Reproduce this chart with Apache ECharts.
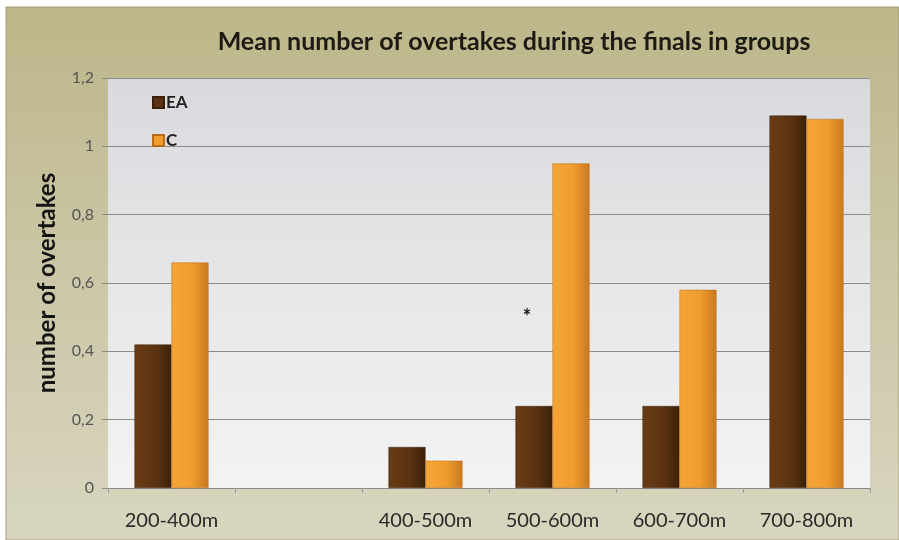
<!DOCTYPE html>
<html>
<head>
<meta charset="utf-8">
<script src="https://cdn.jsdelivr.net/npm/echarts@6/dist/echarts.min.js"></script>
<style>
  html, body { margin: 0; padding: 0; background: #ffffff; }
  #chart { width: 899px; height: 540px; }
</style>
</head>
<body>
<div id="chart"></div>
<script>
// Distance groups (the second slot is an intentionally empty group)
const categories = ['200-400m', '', '400-500m', '500-600m', '600-700m', '700-800m'];
// Mean overtakes per group
const eaValues = [0.42, null, 0.12, 0.24, 0.24, 1.09];
const cValues  = [0.66, null, 0.08, 0.95, 0.58, 1.08];
// Significance marker placed over the 500-600m group
const starCategory = '500-600m';
const starValue = 0.51;

const chart = echarts.init(document.getElementById('chart'));

const eaColor = new echarts.graphic.LinearGradient(0, 0, 1, 0, [
  { offset: 0, color: '#6a3c15' },
  { offset: 0.6, color: '#5a3211' },
  { offset: 1, color: '#3c2109' }
]);
const cColor = new echarts.graphic.LinearGradient(0, 0, 1, 0, [
  { offset: 0, color: '#f5a537' },
  { offset: 0.55, color: '#f09d2e' },
  { offset: 1, color: '#c9791f' }
]);

chart.setOption({
  backgroundColor: '#ffffff',
  animation: false,
  graphic: [{
    type: 'rect',
    silent: true,
    z: -10,
    shape: { x: 6, y: 7, width: 893, height: 533 },
    style: {
      fill: new echarts.graphic.LinearGradient(0, 0, 0, 1, [
        { offset: 0, color: '#bcb689' },
        { offset: 0.5, color: '#cbc6a6' },
        { offset: 1, color: '#d9d6c0' }
      ]),
      stroke: '#a39d74',
      lineWidth: 1
    }
  }],
  title: {
    text: 'Mean number of overtakes during the finals in groups',
    left: 509,
    textAlign: 'center',
    top: 24,
    textStyle: {
      fontFamily: 'Lato',
      fontWeight: 'bold',
      fontSize: 25,
      color: '#1c1a12'
    }
  },
  legend: {
    orient: 'vertical',
    left: 147,
    top: 89,
    itemWidth: 11,
    itemHeight: 11,
    itemGap: 21,
    icon: 'rect',
    textStyle: {
      fontFamily: 'Lato',
      fontWeight: 'bold',
      fontSize: 17,
      color: '#222',
      padding: [0, 0, 0, -3]
    },
    data: [
      { name: 'EA', itemStyle: { color: '#5a3211' } },
      { name: 'C', itemStyle: { color: '#f09d2e' } }
    ]
  },
  grid: {
    left: 108,
    right: 29,
    top: 78,
    bottom: 52,
    show: true,
    borderWidth: 0,
    backgroundColor: new echarts.graphic.LinearGradient(0, 0, 0, 1, [
      { offset: 0, color: '#d8dadd' },
      { offset: 1, color: '#f3f3f3' }
    ])
  },
  xAxis: {
    type: 'category',
    data: categories,
    axisLine: { lineStyle: { color: '#8a8a8a', width: 1 } },
    axisTick: { show: true, length: 5, lineStyle: { color: '#9a9a9a' } },
    axisLabel: {
      margin: 23,
      fontFamily: 'Lato',
      fontSize: 20,
      color: '#2a2a2a'
    }
  },
  yAxis: {
    type: 'value',
    min: 0,
    max: 1.2,
    interval: 0.2,
    name: 'number of overtakes',
    nameLocation: 'middle',
    nameRotate: 90,
    nameGap: 49,
    nameTextStyle: {
      fontFamily: 'Lato',
      fontWeight: 'bold',
      fontSize: 24,
      color: '#141414'
    },
    axisLine: { show: false },
    axisTick: { show: true, length: 6, lineStyle: { color: '#8a8a8a' } },
    axisLabel: {
      margin: 14,
      fontFamily: 'Lato',
      fontSize: 16,
      color: '#555',
      formatter: v => String(+v.toFixed(1)).replace('.', ',')
    },
    splitLine: { lineStyle: { color: '#8c8c8c', width: 1 } }
  },
  series: [
    {
      name: 'EA',
      type: 'bar',
      data: eaValues,
      barWidth: 37,
      barGap: '0%',
      itemStyle: { color: eaColor, borderColor: '#3a2008', borderWidth: 0.5 },
      markPoint: {
        symbol: 'circle',
        symbolSize: 0,
        data: [{ coord: [starCategory, starValue] }],
        label: {
          show: true,
          formatter: '*',
          offset: [-7, 4],
          fontFamily: 'Lato',
          fontWeight: 'bold',
          fontSize: 20,
          color: '#111'
        }
      }
    },
    {
      name: 'C',
      type: 'bar',
      data: cValues,
      barWidth: 37,
      itemStyle: { color: cColor, borderColor: '#b86c18', borderWidth: 0.5 }
    }
  ]
});
</script>
</body>
</html>
